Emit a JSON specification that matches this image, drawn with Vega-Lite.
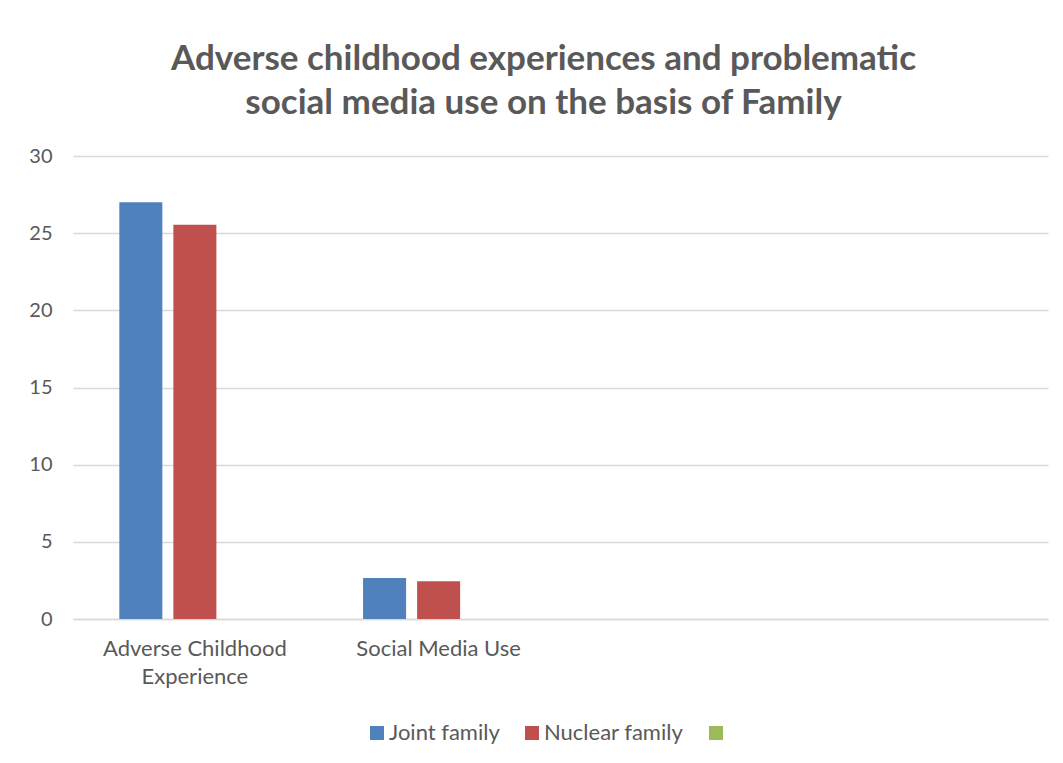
{
  "$schema": "https://vega.github.io/schema/vega-lite/v6.json",
  "width": 975,
  "height": 463,
  "autosize": {"type": "none"},
  "padding": {"left": 73, "top": 156, "right": 15, "bottom": 144},
  "background": "white",
  "title": {
    "text": ["Adverse childhood experiences and problematic", "social media use on the basis of Family"],
    "font": "Lato",
    "fontSize": 35,
    "fontWeight": "bold",
    "color": "#595959",
    "anchor": "middle",
    "frame": "group",
    "dx": -17,
    "offset": 25,
    "lineHeight": 44
  },
  "data": {
    "values": [
      {"measure": "Adverse Childhood Experience", "family": "Joint family", "value": 27.0},
      {"measure": "Adverse Childhood Experience", "family": "Nuclear family", "value": 25.55},
      {"measure": "Social Media Use", "family": "Joint family", "value": 2.66},
      {"measure": "Social Media Use", "family": "Nuclear family", "value": 2.44}
    ]
  },
  "mark": {"type": "bar"},
  "encoding": {
    "x": {
      "field": "measure",
      "type": "nominal",
      "scale": {
        "domain": ["Adverse Childhood Experience", "Social Media Use", "c3", "c4"],
        "paddingInner": 0.38,
        "paddingOuter": 0.19
      },
      "axis": {
        "title": null,
        "labelAngle": 0,
        "labelExpr": "datum.value == 'Adverse Childhood Experience' ? ['Adverse Childhood', 'Experience'] : (datum.value == 'Social Media Use' ? datum.value : '')",
        "labelFont": "Lato",
        "labelFontSize": 22,
        "labelColor": "#595959",
        "labelLineHeight": 28,
        "labelPadding": 19,
        "labelBaseline": "top",
        "labelLimit": 0,
        "ticks": false,
        "domainColor": "#D9D9D9",
        "domainWidth": 1.5,
        "grid": false
      }
    },
    "xOffset": {
      "field": "family",
      "type": "nominal",
      "scale": {
        "domain": ["Joint family", "Nuclear family", "Series 3"],
        "paddingInner": 0.204,
        "paddingOuter": 0
      }
    },
    "y": {
      "field": "value",
      "type": "quantitative",
      "scale": {"domain": [0, 30]},
      "axis": {
        "title": null,
        "values": [0, 5, 10, 15, 20, 25, 30],
        "labelFont": "Lato",
        "labelFontSize": 20,
        "labelColor": "#595959",
        "labelPadding": 21,
        "ticks": false,
        "domain": false,
        "gridColor": "#D9D9D9",
        "gridWidth": 1.5
      }
    },
    "color": {
      "field": "family",
      "type": "nominal",
      "scale": {
        "domain": ["Joint family", "Nuclear family", "Series 3"],
        "range": ["#4F81BD", "#C0504D", "#9BBB59"]
      },
      "legend": {
        "title": null,
        "orient": "none",
        "direction": "horizontal",
        "legendX": 293,
        "legendY": 566,
        "symbolType": "square",
        "symbolSize": 196,
        "symbolStrokeWidth": 0,
        "labelExpr": "datum.value == 'Series 3' ? '' : datum.value",
        "labelFont": "Lato",
        "labelFontSize": 22,
        "labelColor": "#595959",
        "labelOffset": 1,
        "labelLimit": 0,
        "columnPadding": 21
      }
    }
  },
  "config": {
    "view": {"stroke": null}
  }
}
